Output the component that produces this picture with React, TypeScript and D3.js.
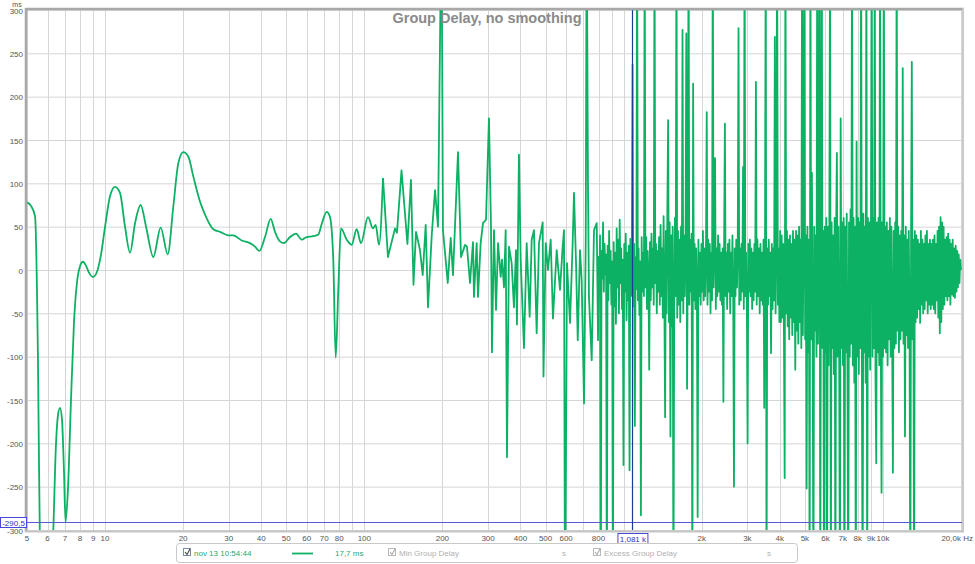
import React from "react";
import * as d3 from "d3";

const W = 975;
const H = 564;

// Low/mid frequency part of the group delay curve (Hz, ms)
const sparseHz = [
  5.0, 5.18, 5.37, 5.51, 5.61, 5.92, 6.3, 6.47, 6.58, 6.7, 6.82, 6.94, 7.04, 7.2, 7.39, 7.59, 7.79, 8.0, 8.22, 8.44,
  8.67, 8.98, 9.31, 9.65, 10.0, 10.45, 10.92, 11.42, 11.94, 12.48, 13.05, 13.72, 14.39, 15.35, 16.39, 17.44, 18.33, 19.16, 20.03, 20.94,
  21.89, 23.23, 24.29, 26.16, 27.76, 29.88, 31.23, 33.65, 36.22, 37.87, 39.34, 41.38, 43.53, 45.22, 47.28, 48.99, 51.67, 54.5, 57.33, 59.93,
  63.55, 66.43, 68.46, 71.58, 73.71, 75.9, 77.53, 79.33, 81.26, 85.48, 89.35, 93.41, 97.05, 103.3, 108.0, 110.6, 113.9, 118.0, 123.3, 131.3,
  133.6, 139.1, 146.6, 151.3, 154.7, 158.2, 163.9, 167.9, 172.4, 176.0, 181.9, 187.3, 192.3, 198.4, 201.0, 209.7, 215.3, 219.7, 229.7, 235.9,
  244.5, 248.8, 255.5, 262.4, 264.7, 271.1, 274.3, 280.9, 286.8, 294.5, 302.4, 307.9, 310.6, 316.2, 321.9, 327.7, 335.6, 339.5, 345.6, 350.8,
  354.9, 361.3, 369.9, 377.5, 384.3, 387.7, 394.7, 400.8, 412.7, 422.7, 434.1, 441.9, 451.0, 461.9, 471.5, 487.2, 490.7, 500.5, 510.7, 523.2,
  533.8, 551.8, 568.2, 581.9, 588.8, 594.1, 604.7, 621.0, 635.9, 643.4, 655.2, 665.2, 678.7, 688.9, 703.4, 714.0, 720.2, 728.4, 734.9, 753.0,
  768.6, 787.4, 796.5,
];
const sparseMs = [
  78, 74, 62, -100, -320, -450, -310, -200, -168, -159, -172, -230, -291, -250, -150, -60, -15, 4, 9.5, 5,
  -3, -8, -2, 18, 50, 85, 96, 89, 50, 20, 54, 75, 50, 15, 49, 18, 73, 123, 136, 131,
  108, 79, 64, 47, 44, 40, 40, 34, 31, 27, 22, 38, 59, 44, 33, 31, 38, 42, 35, 38,
  39, 41, 53, 67, 61, 11, -101, -23, 48, 35, 29, 47, 31, 61, 48, 52, 29, 106, 15, 48,
  43, 115, 30, 104, -17, 44, 23, -6, 52, -43, 40, 92, 50, 420, 46, -15, 37, -6, 136, 15,
  29, 27, -15, 32, -31, 31, -31, 31, 54, 58, 175, 50, -95, 46, -46, 31, -8, 12, -20, 46,
  -216, 27, 8, -43, 23, -63, 133, 12, -90, 31, -54, 35, 46, -73, 31, 55, -123, 31, 0, 35,
  -56, 23, -23, 27, 46, -420, 8, -61, 31, 89, 8, -81, 23, -12, -154, 31, 420, 104, -31, -104,
  46, 54, -81,
];

// High frequency part: dense samples, log-spaced from 800 Hz to 20 kHz
const denseStartHz = 800;
const denseEndHz = 20000;
const denseMs = [
  15, -30, 40, -400, 22, -10, 55, -25, 30, -5, 18, -400, 28, -35, 45, -15, 22, -40, 10, -400,
  32, -42, 20, -62, 48, -20, 35, -50, 58, -15, 25, -45, 12, -225, 30, -25, 42, -58, 20, -35,
  28, -231, 36, -30, 20, 237, -42, 30, -180, 15, -22, 400, -35, 25, -52, 10, -283, 38, -25, 20,
  -30, 400, -20, 38, -45, 22, -10, -115, 32, -35, 42, -20, 25, -40, 400, -15, 30, -50, 22, -25,
  38, -40, 52, -30, 25, -55, 62, -35, -170, 45, -50, 72, 173, -60, 55, -192, 40, -65, 50, -400,
  -45, 60, -30, 400, -55, 45, -40, 35, -60, 50, -35, 277, -50, 40, -30, 25, 273, -137, 30, 400,
  -40, 35, -25, 42, -400, 215, -35, 30, -45, 25, -20, -285, 35, -30, 20, -40, 30, -25, 45, -35,
  25, -30, 20, 182, -40, 35, -25, 30, -50, 20, -35, 400, -20, 30, 129, -45, 25, -30, 40, -25,
  30, -35, 20, -40, 25, -152, 35, 169, -30, 20, -45, 30, -25, 35, -50, 20, -30, 40, -35, -250,
  25, -30, 35, -20, 30, 279, -40, 25, -35, 30, -25, 119, -45, 400, -30, 20, -35, -200, 30, -25,
  35, -30, 25, -45, 20, -35, 30, -25, 217, -40, 35, -30, 25, -50, 30, -35, 20, -40, 35, -159,
  30, 400, -400, 25, -40, 35, -30, 20, -96, 30, -45, 25, -35, 269, -50, 30, 400, -40, 25, -60,
  45, -60, 40, -55, 30, -70, -240, 400, -50, 45, -65, 35, -80, 40, -55, 30, -75, 45, -60, 35,
  -115, 45, -70, 40, -85, 50, -60, 35, -90, 400, -75, 45, 400, -80, 40, -252, 50, -95, 35, -400,
  400, -80, 112, -90, -400, 50, -70, 40, -100, 400, -85, 45, 400, -400, 55, 400, -90, 45, -400, 50,
  -95, 60, -400, 50, -110, 45, 400, -400, 55, -90, 40, -120, 60, -400, 45, 135, -100, 50, -85, -400,
  175, -90, 55, -110, 60, -400, 50, -95, 65, -120, -400, 55, -100, 70, -85, 400, -110, 60, -130, 50,
  -400, 148, -100, 60, -120, 55, -90, 400, -110, -400, 65, -95, 50, -130, 400, -400, 60, -100, 55, -115,
  50, 400, -100, 60, -90, 400, -120, -223, 55, -95, 60, -110, 400, -85, -257, 55, -100, 400, -90, 50,
  -95, 55, -110, 45, -80, 60, -100, 50, -75, -234, 45, -90, 55, -85, 400, -70, 50, -95, 40, -80,
  45, -70, 233, -85, 40, -192, 50, -75, 35, -90, 45, -65, -400, 40, 240, -80, 35, -400, 45, -60,
  40, -55, 35, -45, 30, -61, 45, -40, 35, -50, 30, -45, 40, -35, 45, -50, 30, -40, 35, -45,
  30, -40, 35, -45, 40, -50, 30, -35, 45, -55, 50, -73, 61, -60, 55, -45, 50, -40, 35, -30,
  38, -35, 42, -30, 35, -40, 30, -28, 35, -30, 25, -32, 28, -25, 22, -20, 18, -15, 12, 0,
];

const yTicks = [300, 250, 200, 150, 100, 50, 0, -50, -100, -150, -200, -250, -300];
const xGridHz = [
  5, 6, 7, 8, 9, 10, 20, 30, 40, 50, 60, 70, 80, 90, 100, 200, 300, 400, 500, 600, 700, 800, 900, 1000,
  2000, 3000, 4000, 5000, 6000, 7000, 8000, 9000, 10000, 20000,
];
const xTickLabels = [
  "5", "6", "7", "8", "9", "10", "20", "30", "40", "50", "60", "70", "80", "", "100", "200", "300", "400", "500", "600", "", "800", "", "",
  "2k", "3k", "4k", "5k", "6k", "7k", "8k", "9k", "10k", "20,0k Hz",
];

const title = "Group Delay, no smoothing";
const cursorHz = 1081;
const cursorMs = -290.5;
const cursorHzLabel = "1,081 k";
const cursorMsLabel = "-290,5";
const legendName = "nov 13 10:54:44";
const legendValue = "17,7 ms";

const FONT = "'Liberation Sans', Arial, sans-serif";
const GREEN = "#0db163";
const SMOOTH_LIMIT_HZ = 118;

export default function App() {
  const left = 27, right = 961, top = 10, bottom = 530;
  const x = d3.scaleLog().domain([5, 20000]).range([left, right]);
  const y = d3.scaleLinear().domain([-300, 300]).range([bottom, top]);

  const pts: [number, number][] = sparseHz.map((f, i) => [f, sparseMs[i]]);
  const n = denseMs.length;
  denseMs.forEach((v, i) => {
    pts.push([denseStartHz * Math.pow(denseEndHz / denseStartHz, i / (n - 1)), v]);
  });
  const lowPts = pts.filter((d) => d[0] <= SMOOTH_LIMIT_HZ);
  const highPts = pts.filter((d) => d[0] >= SMOOTH_LIMIT_HZ);

  const smoothLine = d3
    .line<[number, number]>()
    .x((d) => x(d[0]))
    .y((d) => y(d[1]))
    .curve(d3.curveMonotoneX);
  const line = d3
    .line<[number, number]>()
    .x((d) => x(d[0]))
    .y((d) => y(d[1]));

  const cx = x(cursorHz);
  const cy = y(cursorMs);

  return (
    <svg
      width={W}
      height={H}
      style={{ position: "absolute", left: 0, top: 0, display: "block", background: "#fff" }}
      fontFamily={FONT}
    >
      <defs>
        <clipPath id="plot">
          <rect x={left} y={top} width={right - left + 1} height={bottom - top} />
        </clipPath>
      </defs>
      <rect x={0} y={0} width={W} height={H} fill="#fff" />
      {/* grid */}
      {yTicks.map((t) => (
        <line key={"h" + t} x1={left} x2={right + 1} y1={y(t) + 0.5} y2={y(t) + 0.5} stroke="#d6d6d6" strokeWidth={1} />
      ))}
      {xGridHz.map((f) => (
        <line key={"v" + f} x1={Math.round(x(f)) + 0.5} x2={Math.round(x(f)) + 0.5} y1={top} y2={bottom} stroke="#d6d6d6" strokeWidth={1} />
      ))}
      {/* data */}
      <g clipPath="url(#plot)">
        <path d={smoothLine(lowPts) || ""} fill="none" stroke={GREEN} strokeWidth={1.8} strokeLinejoin="round" />
        <path d={line(highPts) || ""} fill="none" stroke={GREEN} strokeWidth={1.8} strokeLinejoin="round" />
        <line x1={left} x2={right + 1} y1={Math.round(cy) + 0.5} y2={Math.round(cy) + 0.5} stroke="#5a5ad0" strokeWidth={1} />
        <line x1={Math.round(cx) + 0.5} x2={Math.round(cx) + 0.5} y1={top} y2={bottom} stroke="#1c3c96" strokeWidth={1.2} />
      </g>
      {/* frame */}
      <line x1={left - 1} x2={left - 1} y1={top - 2} y2={bottom + 2} stroke="#a8a8a8" strokeWidth={2.5} />
      <line x1={left - 2} x2={right + 3} y1={top - 1} y2={top - 1} stroke="#a8a8a8" strokeWidth={2.5} />
      <line x1={right + 2} x2={right + 2} y1={top - 2} y2={bottom + 2} stroke="#cacaca" strokeWidth={2} />
      <line x1={left - 2} x2={right + 3} y1={bottom + 1.5} y2={bottom + 1.5} stroke="#c4c4c4" strokeWidth={2} />
      {/* title */}
      <text x={487} y={23} textAnchor="middle" fontSize={14.5} fontWeight="bold" fill="#8a8a8a">
        {title}
      </text>
      {/* y axis */}
      <text x={17} y={7} textAnchor="middle" fontSize={7} fill="#555">ms</text>
      {yTicks.map((t) => (
        <text key={"yt" + t} x={23} y={y(t) + 3.5} textAnchor="end" fontSize={8} fill="#555">
          {t}
        </text>
      ))}
      {/* x axis */}
      {xGridHz.map((f, i) =>
        xTickLabels[i] ? (
          <text
            key={"xt" + f}
            x={i === xGridHz.length - 1 ? 973 : x(f)}
            y={541}
            textAnchor={i === xGridHz.length - 1 ? "end" : "middle"}
            fontSize={8}
            fill="#555"
          >
            {xTickLabels[i]}
          </text>
        ) : null
      )}
      {/* cursor labels */}
      <rect x={0.5} y={517.5} width={26} height={10} fill="#fff" stroke="#4848d8" strokeWidth={1} />
      <text x={13.5} y={525.5} textAnchor="middle" fontSize={8} fill="#3030c8">{cursorMsLabel}</text>
      <rect x={cx - 14.5} y={533.5} width={30} height={10} fill="#fff" stroke="#4848d8" strokeWidth={1} />
      <text x={cx + 0.5} y={541.5} textAnchor="middle" fontSize={8} fill="#3030c8">{cursorHzLabel}</text>
      {/* legend */}
      <rect x={176.5} y={543.5} width={621} height={19} rx={3} fill="#fff" stroke="#c8c8c8" strokeWidth={1} />
      <rect x={183.5} y={548.5} width={7} height={7} fill="#fff" stroke="#7a8aa8" strokeWidth={1} />
      <path d="M185 552 L187 554.5 L190 549" fill="none" stroke="#444" strokeWidth={1.1} />
      <text x={194} y={556} fontSize={8} fill="#2aa86a">{legendName}</text>
      <line x1={292} x2={313} y1={553.5} y2={553.5} stroke={GREEN} strokeWidth={1.8} />
      <text x={335} y={556} fontSize={8} fill="#2aa86a">{legendValue}</text>
      <rect x={388.5} y={548.5} width={7} height={7} fill="#fff" stroke="#b8b8b8" strokeWidth={1} />
      <path d="M390 552 L392 554.5 L395 549" fill="none" stroke="#aaa" strokeWidth={1.1} />
      <text x={399} y={556} fontSize={8} fill="#b0b0b0">Min Group Delay</text>
      <text x={562} y={556} fontSize={8} fill="#b0b0b0">s</text>
      <rect x={593.5} y={548.5} width={7} height={7} fill="#fff" stroke="#b8b8b8" strokeWidth={1} />
      <path d="M595 552 L597 554.5 L600 549" fill="none" stroke="#aaa" strokeWidth={1.1} />
      <text x={604} y={556} fontSize={8} fill="#b0b0b0">Excess Group Delay</text>
      <text x={767} y={556} fontSize={8} fill="#b0b0b0">s</text>
    </svg>
  );
}
